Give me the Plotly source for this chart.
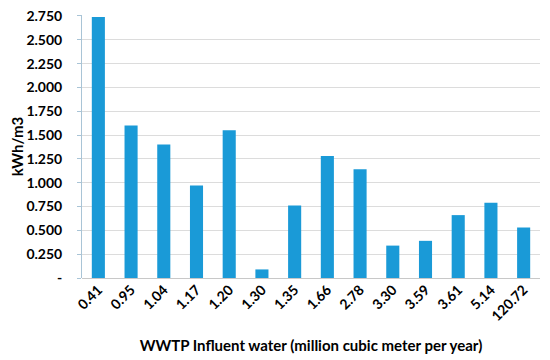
import plotly.graph_objects as go

categories = ["0.41", "0.95", "1.04", "1.17", "1.20", "1.30", "1.35", "1.66",
              "2.78", "3.30", "3.59", "3.61", "5.14", "120.72"]
values = [2.74, 1.60, 1.40, 0.97, 1.55, 0.09, 0.76, 1.28, 1.14, 0.34, 0.39, 0.66, 0.79, 0.53]
tick_vals = [0, 0.25, 0.5, 0.75, 1.0, 1.25, 1.5, 1.75, 2.0, 2.25, 2.5, 2.75]
tick_text = ["-", "0.250", "0.500", "0.750", "1.000", "1.250", "1.500", "1.750",
             "2.000", "2.250", "2.500", "2.750"]

font_family = "Lato"

fig = go.Figure(go.Bar(x=categories, y=values, marker_color="#1A9AD7",
                       marker_line_width=0))

fig.update_layout(
    width=550, height=360,
    margin=dict(l=74, r=18, t=7, b=90),
    plot_bgcolor="white", paper_bgcolor="white",
    bargap=0.6,
    showlegend=False,
    font=dict(family=font_family, color="#000000"),
)
fig.update_xaxes(
    type="category", tickangle=-45, automargin=False,
    tickfont=dict(size=14, family=font_family, weight="bold"),
    showgrid=False, showline=False, ticks="",
    title=dict(text="<b>WWTP Influent water (million cubic meter per year)</b>",
               font=dict(size=15, family=font_family), standoff=17),
)
fig.update_yaxes(
    range=[0, 2.76], tickvals=tick_vals, ticktext=tick_text, automargin=False,
    tickfont=dict(size=14, family=font_family, weight="bold"),
    ticklabeloverflow="allow",
    showgrid=True, gridcolor="#DCDCDC", gridwidth=1,
    showline=True, linecolor="#A9C4D6", linewidth=1,
    ticks="outside", ticklen=4, tickcolor="#A9C4D6",
    ticklabelstandoff=12,
    zeroline=True, zerolinecolor="#C8C8C8", zerolinewidth=1,
    title=dict(text="<b>kWh/m3</b>", font=dict(size=15, family=font_family), standoff=17),
)

fig.write_html("out.html")
